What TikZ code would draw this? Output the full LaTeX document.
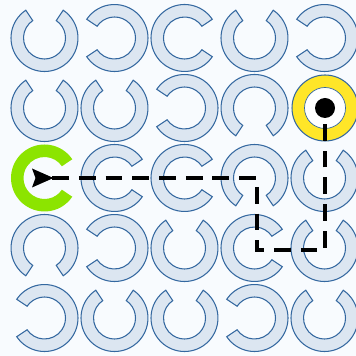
\documentclass[tikz,border=0pt]{standalone}
\usepackage{xcolor}
\usepackage{tikz}
\definecolor{ringfill}{RGB}{220,230,241}
\definecolor{ringedge}{RGB}{52,104,160}
\definecolor{startgreen}{RGB}{140,228,0}
\definecolor{goalyellow}{RGB}{255,230,40}
\definecolor{paper}{RGB}{248,251,254}
% C-shaped ring: centre x, centre y, gap angle, style
\newcommand{\cring}[4]{%
  \begin{scope}[shift={(#1,#2)}, rotate=#3]
    \filldraw[#4] (34:33.5) arc[start angle=34, end angle=326, radius=33.5]
      -- (326:21) arc[start angle=326, end angle=34, radius=21] -- cycle;
  \end{scope}}

\begin{document}
\begin{tikzpicture}[x=0.05cm, y=0.05cm,
    ring/.style={fill=ringfill, draw=ringedge, line width=1.5pt},
    startring/.style={fill=startgreen, draw=none},
    pathline/.style={line width=5pt, dash pattern=on 23.8pt off 14.2pt, dash phase=27pt}]
  % Background
  \fill[paper] (0,0) rectangle (356,356);
  \useasboundingbox (0,0) rectangle (356,356);

  % Grid of rings (column x / row y / gap angle)
  \foreach \x/\y/\g in {44.5/318/90, 114.5/318/180, 184.5/318/0, 254.5/318/90, 324.5/318/180,
                        44.5/248/90, 114.5/248/90, 184.5/248/180, 254.5/248/270,
                        114.5/178/0, 184.5/178/0, 254.5/178/270, 324.5/178/90,
                        44.5/108/270, 114.5/108/180, 184.5/108/90, 254.5/108/0, 324.5/108/90,
                        44.5/38/180, 114.5/38/90, 184.5/38/90, 254.5/38/180, 324.5/38/90}
    \cring{\x}{\y}{\g}{ring};

  % Start ring
  \cring{44.5}{178}{0}{startring}

  % Goal ring
  \filldraw[fill=goalyellow, draw=ringedge, line width=1.5pt] (325,248) circle (33);
  \filldraw[fill=white, draw=ringedge, line width=1pt] (325,248) circle (20.5);

  % Path
  \coordinate (start) at (44.5,178);
  \coordinate (bendA) at (257,178);
  \coordinate (bendB) at (257,106);
  \coordinate (bendC) at (325,106);
  \coordinate (goal) at (325,248);
  \draw[pathline] (start) -- (bendA) -- (bendB) -- (bendC) -- (goal);

  % Markers
  \fill (start) ++(-12.5,9.5) -- ++(21.5,-9.5) -- ++(-21.5,-9.5) -- ++(3.5,9.5) -- cycle;
  \fill (goal) circle (10);
\end{tikzpicture}
\end{document}
